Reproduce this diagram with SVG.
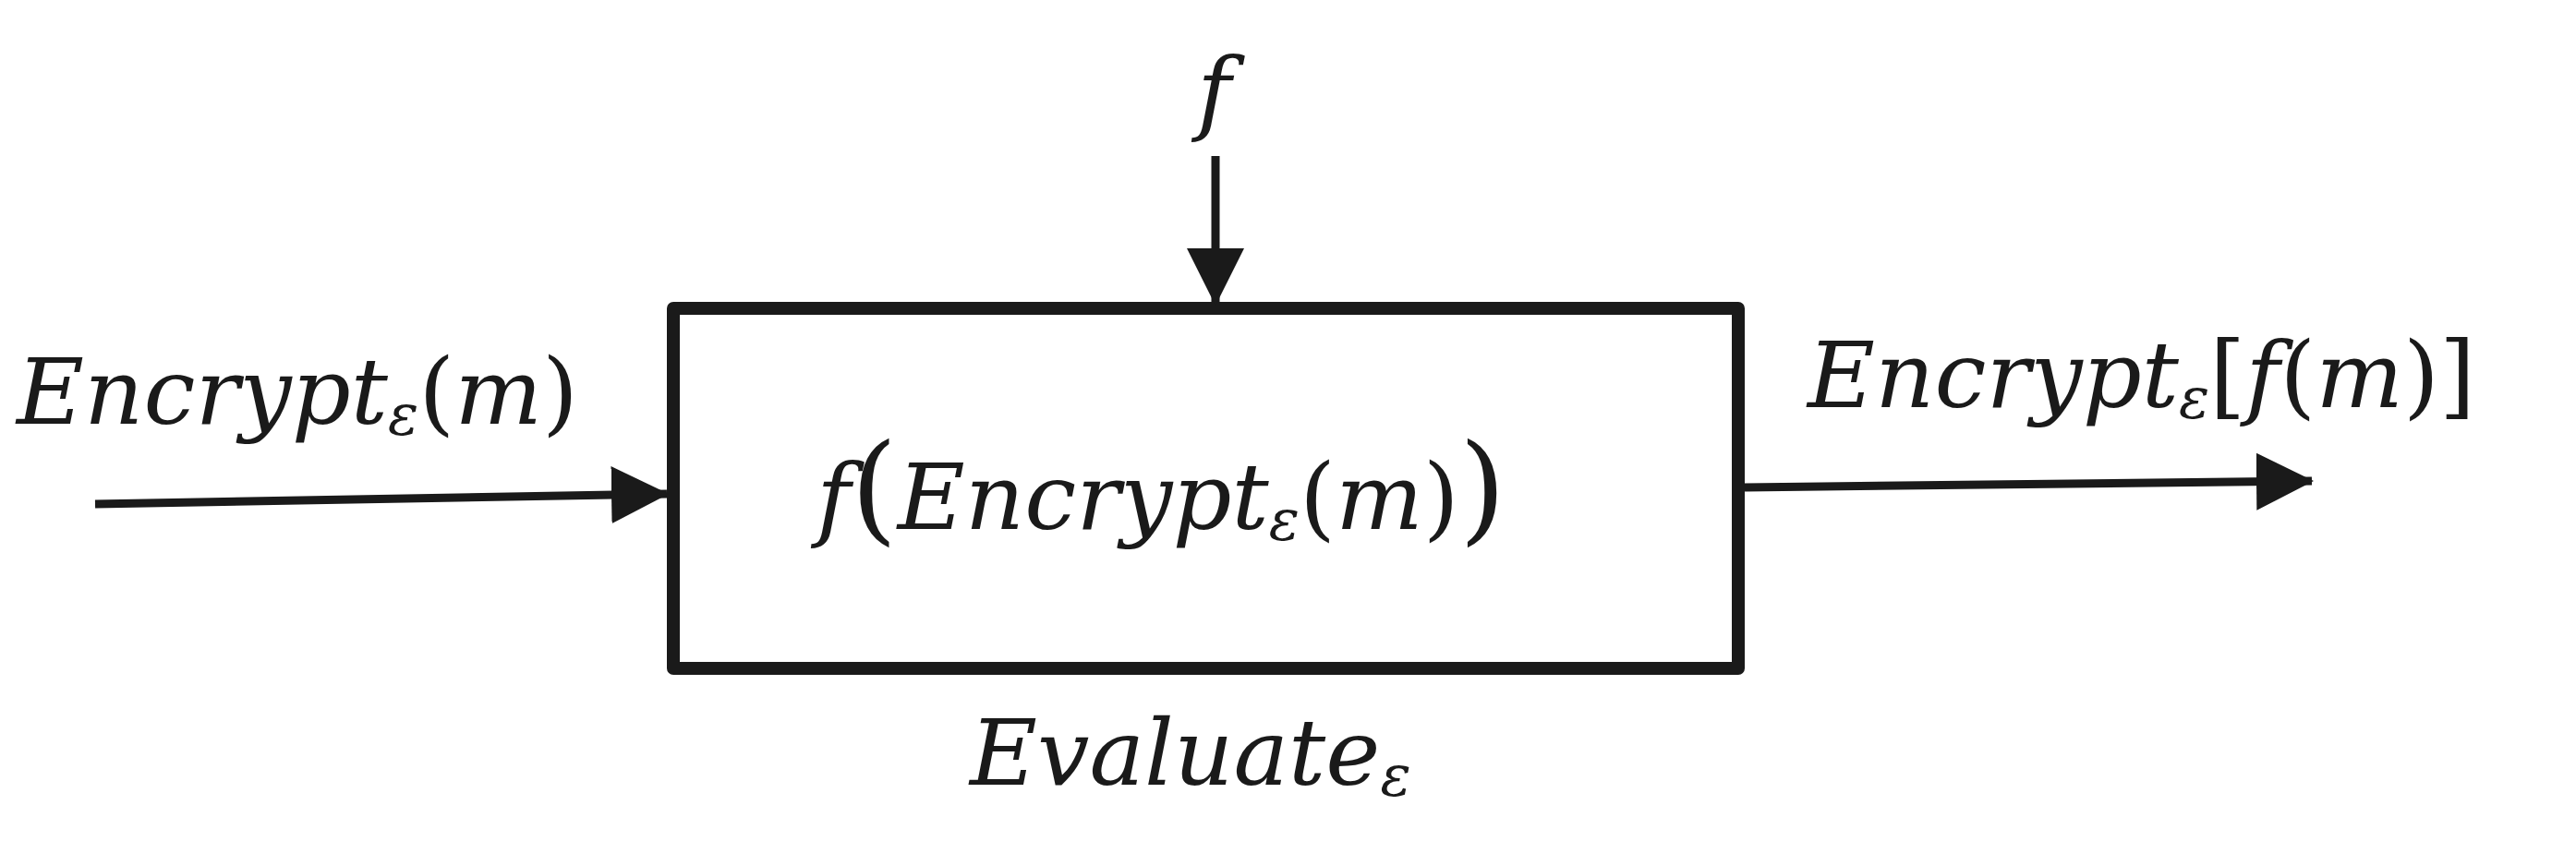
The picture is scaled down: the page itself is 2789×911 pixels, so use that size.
<svg xmlns="http://www.w3.org/2000/svg" width="2789" height="911" viewBox="0 0 2789 911">
<style>
.t{font-family:"DejaVu Serif","Liberation Serif",serif;font-style:italic;font-size:100px;fill:#1a1a1a}
.s{font-size:62px}
.u{font-style:normal}
</style>
<defs><marker id="a" markerWidth="62" markerHeight="62" refX="60" refY="31" orient="auto" markerUnits="userSpaceOnUse"><path d="M0,0 L62,31 L0,62 Z" fill="#1a1a1a"/></marker></defs>
<rect width="2789" height="911" fill="#fff"/>
<g id="evaluate"><rect x="729" y="334" width="1153" height="390" fill="#fff" stroke="#1a1a1a" stroke-width="14" stroke-linejoin="round"/>
<text class="t" x="884" y="573">f<tspan class="u" font-size="130">(</tspan>Encrypt<tspan class="s" dy="12">ε</tspan><tspan class="u" dy="-12">(</tspan>m<tspan class="u">)</tspan><tspan class="u" font-size="130">)</tspan></text>
<text class="t" x="1050" y="850">Evaluate<tspan class="s" dy="12">ε</tspan></text></g>
<g id="labels">
<text class="t" x="1296" y="133">f</text>
<text class="t" x="18" y="459">Encrypt<tspan class="s" dy="12">ε</tspan><tspan class="u" dy="-12">(</tspan>m<tspan class="u">)</tspan></text>
<text class="t" x="1957" y="441">Encrypt<tspan class="s" dy="12">ε</tspan><tspan class="u" dy="-12">[</tspan>f<tspan class="u">(</tspan>m<tspan class="u">)]</tspan></text>
</g>
<g id="connectors" stroke="#1a1a1a" stroke-width="9" fill="none">
<line x1="103" y1="546" x2="722" y2="535" marker-end="url(#a)"/>
<line x1="1889" y1="528" x2="2503" y2="521" marker-end="url(#a)"/>
<line x1="1316" y1="169" x2="1316" y2="329" marker-end="url(#a)"/>
</g>
</svg>
